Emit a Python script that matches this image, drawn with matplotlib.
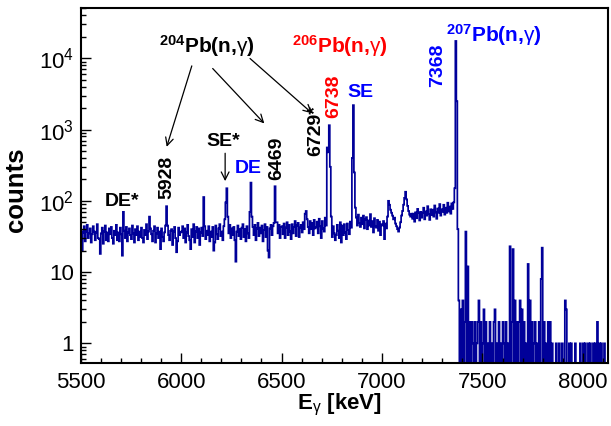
import numpy as np
import matplotlib
matplotlib.use("Agg")
import matplotlib.pyplot as plt
from matplotlib.ticker import MultipleLocator, LogLocator, NullFormatter

plt.rcParams['font.family'] = ['Liberation Sans', 'DejaVu Sans']
plt.rcParams['mathtext.fontset'] = 'custom'
plt.rcParams['mathtext.rm'] = 'Liberation Sans'
plt.rcParams['mathtext.bf'] = 'Liberation Sans:bold'
plt.rcParams['mathtext.it'] = 'Liberation Sans:italic'
plt.rcParams['mathtext.sf'] = 'Liberation Sans'

# spectrum, 5 keV bins starting at 5500 keV
e_start = 5500
bin_width = 5

counts_5500 = [38, 20, 36, 44, 27, 37, 46, 30, 35, 41,
               26, 34, 44, 37, 28, 36, 47, 30, 29, 18,
               35, 42, 25, 37, 45, 28, 36, 27, 41, 34,
               43, 30, 25, 38, 33, 46, 28, 36, 27, 42,
               34, 17, 70, 38, 30, 43, 27, 36, 41, 33,
               29, 45, 35, 26, 40, 33, 44, 28, 37, 31,
               42, 30, 26, 39, 33, 47, 29, 37, 60, 41,
               34, 27, 38, 44, 26, 35, 42, 30, 37, 21,
               41, 31, 27, 36, 45, 84, 45, 33, 28, 38,
               40, 24, 37, 43, 30, 19, 27, 42, 33, 36]

counts_6000 = [37, 44, 30, 41, 26, 36, 46, 32, 28, 21,
               40, 31, 47, 26, 37, 43, 30, 41, 24, 36,
               42, 32, 113, 44, 29, 38, 33, 44, 27, 37,
               31, 43, 20, 26, 45, 34, 29, 41, 47, 32,
               37, 28, 44, 55, 95, 150, 60, 35, 46, 30,
               41, 33, 43, 28, 14, 37, 45, 32, 40, 29,
               42, 47, 31, 40, 27, 44, 35, 30, 70, 180,
               60, 43, 33, 46, 28, 41, 49, 32, 42, 35,
               45, 27, 39, 47, 31, 43, 20, 16, 41, 46,
               33, 44, 49, 160, 50, 50, 35, 46, 30, 43]

counts_6500 = [44, 34, 48, 30, 42, 50, 33, 46, 37, 29,
               47, 35, 43, 52, 32, 45, 49, 31, 42, 46,
               36, 50, 40, 66, 72, 55, 43, 35, 52, 40,
               49, 33, 54, 41, 43, 51, 35, 56, 44, 30,
               52, 41, 37, 58, 45, 560, 480, 1150, 300, 60,
               31, 44, 35, 28, 33, 46, 38, 30, 50, 26,
               45, 33, 47, 36, 29, 48, 39, 34, 51, 42,
               400, 2200, 250, 80, 58, 45, 64, 49, 43, 58,
               47, 62, 41, 55, 59, 40, 53, 45, 65, 43,
               52, 36, 57, 44, 42, 54, 38, 51, 33, 47]

counts_7000 = [45, 52, 29, 48, 41, 60, 100, 88, 75, 68,
               62, 55, 58, 48, 44, 40, 37, 42, 50, 62,
               72, 88, 110, 134, 105, 85, 72, 64, 60, 66,
               56, 66, 51, 69, 57, 77, 68, 53, 70, 58,
               68, 80, 55, 71, 62, 84, 65, 54, 76, 63,
               75, 60, 86, 69, 56, 78, 68, 90, 62, 76,
               70, 88, 64, 80, 68, 94, 71, 83, 66, 92,
               77, 95, 150, 17500, 2500, 40]

counts_7380 = [4, 0, 3, 0, 4, 0, 2, 37, 0, 12,
               0, 2, 0, 2, 1, 0, 2, 0, 1, 2,
               4, 0, 2, 0, 1, 3, 0, 2, 0, 1,
               0, 2, 0, 1, 0, 2, 3, 0, 1, 0,
               2, 0, 1, 0, 2, 1, 0, 2, 0, 1,
               0, 23, 0, 2, 21, 0, 4, 0, 2, 0,
               2, 4, 0, 3, 0, 2, 0, 1, 0, 13,
               0, 4, 0, 2, 0, 1, 2, 0, 1, 0,
               2, 0, 8, 22, 0, 2, 0, 1, 0, 2,
               0, 2, 0, 1, 0, 0, 0, 1, 0, 0,
               1, 0, 0, 1, 0, 0, 4, 3, 0, 0,
               1, 0, 1, 0, 0, 0, 1, 0, 0, 0,
               0, 1, 0, 0, 1, 0, 1, 0, 0, 1,
               0, 1, 0, 0, 1, 0, 1, 0, 2, 0,
               1, 0, 1, 0, 0, 1, 0, 0, 0]

counts = np.array(counts_5500 + counts_6000 + counts_6500 + counts_7000 + counts_7380, dtype=float)
edges = e_start + bin_width * np.arange(len(counts) + 1)

line_col = '#000099'

fig = plt.figure(figsize=(6.11, 4.26), dpi=100)
ax = fig.add_axes([0.1321, 0.1472, 0.863, 0.8329])

# empty bins drawn down to the bottom like ROOT does on a log axis
ax.stairs(np.where(counts > 0, counts, 0.01), edges, baseline=0.01, color=line_col, lw=1.25)

ax.set_yscale('log')
ax.set_xlim(5500, 8125)
ax.set_ylim(0.525, 5e4)

ax.xaxis.set_major_locator(MultipleLocator(500))
ax.xaxis.set_minor_locator(MultipleLocator(100))
ax.set_yticks([1, 10, 100, 1000, 10000])
ax.set_yticklabels(['1', '10', r'$10^{2}$', r'$10^{3}$', r'$10^{4}$'])
ax.yaxis.set_minor_locator(LogLocator(base=10, subs=np.arange(2, 10)))
ax.yaxis.set_minor_formatter(NullFormatter())
ax.tick_params(which='both', direction='in', top=False, right=False, width=1.0, labelsize=16)
ax.tick_params(which='major', length=7)
ax.tick_params(which='minor', length=3.6)
ax.tick_params(axis='x', pad=6)
ax.tick_params(axis='y', pad=5)
for s in ax.spines.values():
    s.set_linewidth(1.5)

ax.set_xlabel(r'$\mathbf{E}_{\mathrm{\gamma}}\mathbf{\ [keV]}$', fontsize=16)
ax.xaxis.set_label_coords(0.491, -0.08)
ax.set_ylabel('counts', fontsize=18.5, fontweight='bold')
ax.yaxis.set_label_coords(-0.10, 0.488)

# peak labels
ax.text(5708, 97, 'DE*', fontsize=14, fontweight='bold', ha='center', va='center')
ax.text(5930, 106, '5928', fontsize=14, fontweight='bold', rotation=90, ha='center', va='bottom')
ax.text(6209, 689, 'SE*', fontsize=14, fontweight='bold', ha='center', va='center')
ax.text(6336, 288, 'DE', fontsize=14, fontweight='bold', color='#0000ff', ha='center', va='center')
ax.text(6476, 195, '6469', fontsize=14, fontweight='bold', rotation=90, ha='center', va='bottom')
ax.text(6671, 424, '6729*', fontsize=14, fontweight='bold', rotation=90, ha='center', va='bottom')
ax.text(6761, 1445, '6738', fontsize=14, fontweight='bold', color='#ff0000', rotation=90,
        ha='center', va='bottom')
ax.text(6891, 3340, 'SE', fontsize=14, fontweight='bold', color='#0000ff', ha='center', va='center')
ax.text(7277, 3935, '7368', fontsize=14, fontweight='bold', color='#0000ff', rotation=90,
        ha='center', va='bottom')

ax.text(6129, 11800, r'$^{\mathbf{204}}$Pb(n,$\mathrm{\gamma}$)', fontsize=15, fontweight='bold',
        ha='center', va='baseline')
ax.text(6791, 11800, r'$^{\mathbf{206}}$Pb(n,$\mathrm{\gamma}$)', fontsize=15, fontweight='bold',
        color='#ff0000', ha='center', va='baseline')
ax.text(7558, 17000, r'$^{\mathbf{207}}$Pb(n,$\mathrm{\gamma}$)', fontsize=15, fontweight='bold',
        color='#0000ff', ha='center', va='baseline')

arr = dict(arrowstyle='->', color='k', lw=0.9, mutation_scale=14, shrinkA=0, shrinkB=0)
ax.annotate('', xy=(6219, 189), xytext=(6219, 465), arrowprops=arr)
ax.annotate('', xy=(5928, 572), xytext=(6053, 7820), arrowprops=arr)
ax.annotate('', xy=(6414, 1218), xytext=(6157, 7190), arrowprops=arr)
ax.annotate('', xy=(6653, 1683), xytext=(6343, 9930), arrowprops=arr)

fig.savefig('out.png', dpi=100)
